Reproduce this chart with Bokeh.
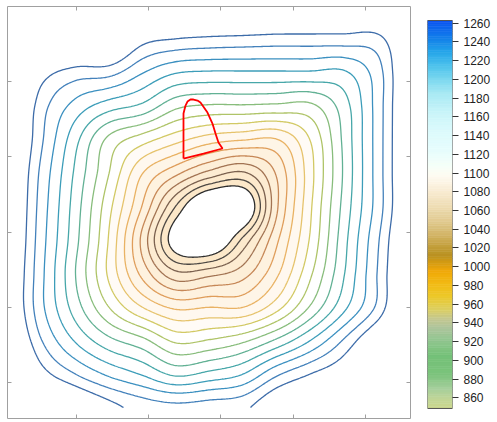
import numpy as np
from bokeh.plotting import figure
from bokeh.layouts import row
from bokeh.models import FixedTicker, LinearAxis
from bokeh.embed import file_html
from bokeh.resources import INLINE

# ---------------- data ----------------
# coarse grid of the mapped field (contour-level units), rows listed top -> bottom
x_nodes = np.linspace(0.059, 5.623, 13)
y_nodes_top_down = np.linspace(5.997, 0.668, 13)
z_rows = [
    [24.0, 22.9, 22.5, 22.4, 20.5, 19.9, 19.6, 19.5, 19.2, 19.1, 19.0, 19.0, 20.3],
    [22.0, 20.1, 19.5, 19.4, 17.4, 16.9, 16.7, 16.6, 16.5, 16.5, 16.5, 16.6, 18.6],
    [20.0, 17.5, 16.5, 16.3, 15.0, 14.0, 13.8, 13.8, 13.8, 13.8, 13.8, 15.5, 18.5],
    [19.2, 16.4, 14.6, 13.4, 12.7, 11.2, 10.8, 10.8, 10.7, 10.7, 12.5, 15.4, 18.5],
    [18.9, 16.1, 13.3, 10.7, 9.4, 8.3, 7.4, 7.0, 6.9, 9.0, 12.2, 15.4, 18.5],
    [18.6, 15.7, 12.8, 10.0, 7.0, 5.2, 3.6, 2.8, 5.1, 8.6, 12.1, 15.4, 18.5],
    [18.5, 15.5, 12.5, 9.3, 5.9, 1.9, -1.2, -0.6, 4.8, 8.8, 12.3, 15.4, 18.5],
    [18.4, 15.35, 12.3, 8.9, 4.7, 0.2, -0.8, 2.3, 5.8, 9.1, 12.6, 15.8, 18.8],
    [18.2, 15.2, 12.0, 8.8, 5.7, 3.3, 3.7, 4.6, 6.8, 9.8, 12.9, 16.0, 19.0],
    [18.2, 15.2, 12.5, 10.0, 8.0, 6.8, 7.0, 7.0, 8.6, 11.1, 13.7, 16.2, 19.3],
    [18.8, 16.0, 13.9, 12.3, 11.3, 9.8, 10.1, 10.8, 12.2, 14.0, 16.1, 18.4, 20.5],
    [20.2, 17.5, 16.0, 14.8, 13.9, 12.8, 13.3, 14.0, 15.8, 17.0, 18.1, 20.0, 22.0],
    [21.5, 20.0, 18.6, 17.4, 16.6, 16.3, 16.5, 16.75, 18.2, 19.3, 20.5, 22.0, 23.0],
]
levels = list(range(1, 18))
line_colors = ["#2e2e2e", "#4d4843", "#7a604e", "#a27352", "#c68756", "#df9d5a",
               "#e9b263", "#e6c36c", "#d2c964", "#afc468", "#88bd7c", "#62b194",
               "#47a7a9", "#3c9db9", "#3b90c0", "#4381bb", "#3d6ca9"]
fill_colors = ["#fce8c9", "#fdeacd", "#fdecd2", "#fdefd8", "#fef2df", "#fef5e7",
               "#fff8ef", "#fffbf6", "#ffffff", "#ffffff", "#ffffff", "#ffffff",
               "#ffffff", "#ffffff", "#ffffff", "#ffffff"]

# red outline
poly_x = [2.481, 2.481, 2.481, 2.509, 2.536, 2.578, 2.619, 2.675, 2.716, 2.813,
          2.882, 2.924, 2.965, 3.021, 2.758, 2.481]
poly_y = [3.977, 4.349, 4.575, 4.681, 4.734, 4.761, 4.761, 4.747, 4.721, 4.588,
          4.442, 4.309, 4.189, 4.110, 4.043, 3.977]

axis_ticks = [1, 2, 3, 4, 5]
x_lim = (0.045, 5.623)
y_lim = (0.522, 5.997)

# colour bar
cb_ticks = list(range(860, 1261, 20))
cb_bar = (848.6, 1262.9)          # extent of the colour bar
cb_view = (837.9, 1277.85)        # value span of the full plot height
cb_vals = [848.6, 858, 870, 885, 905, 922, 935, 945, 955, 968, 982, 996, 1004, 1012,
           1022, 1034, 1048, 1064, 1080, 1096, 1108, 1125, 1145, 1165, 1185, 1200,
           1215, 1230, 1245, 1262.9]
cb_cols = ["#ccd68c", "#c2d696", "#a6cf9c", "#7cc37c", "#74c178", "#92c690", "#aec59c",
           "#c5c78e", "#dccf5e", "#ecc92a", "#f2ba14", "#f0a808", "#d69c12", "#bb9220",
           "#c39f3c", "#d2b466", "#e0c98e", "#eedcb2", "#f8ebd1", "#fffaf0", "#f6fff9",
           "#e6fdfd", "#dcfafc", "#c8f4f8", "#a8eaf4", "#7cd8f0", "#4cc2ec", "#24a4ea",
           "#127eea", "#0a52f0"]

# ---------------- smooth field for the contour glyph ----------------
Z = np.array(z_rows)[::-1]
y_nodes = y_nodes_top_down[::-1]


def cr_weights(n, m):
    t = np.linspace(0, n - 1, m)
    W = np.zeros((m, n))
    for k, tk in enumerate(t):
        i = min(int(np.floor(tk)), n - 2)
        f = tk - i
        ws = [(-f**3 + 2 * f**2 - f) / 2, (3 * f**3 - 5 * f**2 + 2) / 2,
              (-3 * f**3 + 4 * f**2 + f) / 2, (f**3 - f**2) / 2]
        for o, w in zip((-1, 0, 1, 2), ws):
            j = min(max(i + o, 0), n - 1)
            W[k, j] += w
    return W


nf = 280
Zf = cr_weights(len(y_nodes), nf) @ Z @ cr_weights(len(x_nodes), nf).T
xf = np.linspace(x_nodes[0], x_nodes[-1], nf)
yf = np.linspace(y_nodes[0], y_nodes[-1], nf)
X, Y = np.meshgrid(xf, yf)

p1 = figure(width=416, height=422, x_range=x_lim, y_range=y_lim,
            output_backend="svg", toolbar_location=None, title=None,
            min_border_left=7, min_border_right=6, min_border_top=6, min_border_bottom=4)
p1.contour(X, Y, Zf, levels, line_color=line_colors, line_width=1.3,
           fill_color=fill_colors)
p1.line(poly_x, poly_y, line_color="#ff0000", line_width=1.8)

p1.add_layout(LinearAxis(), "above")
p1.add_layout(LinearAxis(), "right")
for ax in p1.axis:
    ax.ticker = FixedTicker(ticks=axis_ticks)
    ax.major_label_text_font_size = "1px"
    ax.major_label_text_color = None
    ax.major_label_standoff = 0
    ax.axis_label = None
    ax.major_tick_in = 4
    ax.major_tick_out = 0
    ax.minor_tick_in = 0
    ax.minor_tick_out = 0
    ax.minor_tick_line_color = None
    ax.axis_line_color = None
    ax.major_tick_line_color = "#a0a0a0"
p1.xgrid.visible = False
p1.ygrid.visible = False
p1.outline_line_color = "#a0a0a0"
p1.background_fill_color = "white"

# ---------------- colour bar ----------------
def hex2rgb(h):
    return np.array([int(h[i:i + 2], 16) for i in (1, 3, 5)], dtype=float)


anch = np.array([hex2rgb(c) for c in cb_cols])
edges = np.arange(cb_bar[0], cb_bar[1] + 2.5, 2.5)
edges[-1] = cb_bar[1]
mids = (edges[:-1] + edges[1:]) / 2
band_cols = []
for m in mids:
    rgb = [np.interp(m, cb_vals, anch[:, c]) for c in range(3)]
    band_cols.append("#%02x%02x%02x" % tuple(int(round(v)) for v in rgb))

p2 = figure(width=81, height=422, x_range=(0, 1), y_range=cb_view,
            output_backend="svg", toolbar_location=None, title=None,
            y_axis_location="right",
            min_border_left=11, min_border_right=45, min_border_top=6, min_border_bottom=4)
p2.quad(left=0, right=1, bottom=edges[:-1], top=edges[1:], fill_color=band_cols,
        line_color=band_cols, line_width=0.6)
p2.quad(left=0, right=1, bottom=cb_bar[0], top=cb_bar[1], fill_color=None,
        line_color="#555555", line_width=1)
p2.xaxis.visible = False
p2.xgrid.visible = False
p2.ygrid.visible = False
ya = p2.yaxis[0]
ya.ticker = FixedTicker(ticks=cb_ticks)
ya.major_tick_out = 6
ya.major_tick_in = 0
ya.minor_tick_line_color = None
ya.axis_line_color = None
ya.major_tick_line_color = "#333333"
ya.major_label_text_font = "Liberation Sans"
ya.major_label_text_font_size = "12px"
ya.major_label_text_color = "#222222"
ya.major_label_standoff = 5
p2.outline_line_color = None

layout = row(p1, p2)
open("out.html", "w").write(file_html(layout, INLINE))
